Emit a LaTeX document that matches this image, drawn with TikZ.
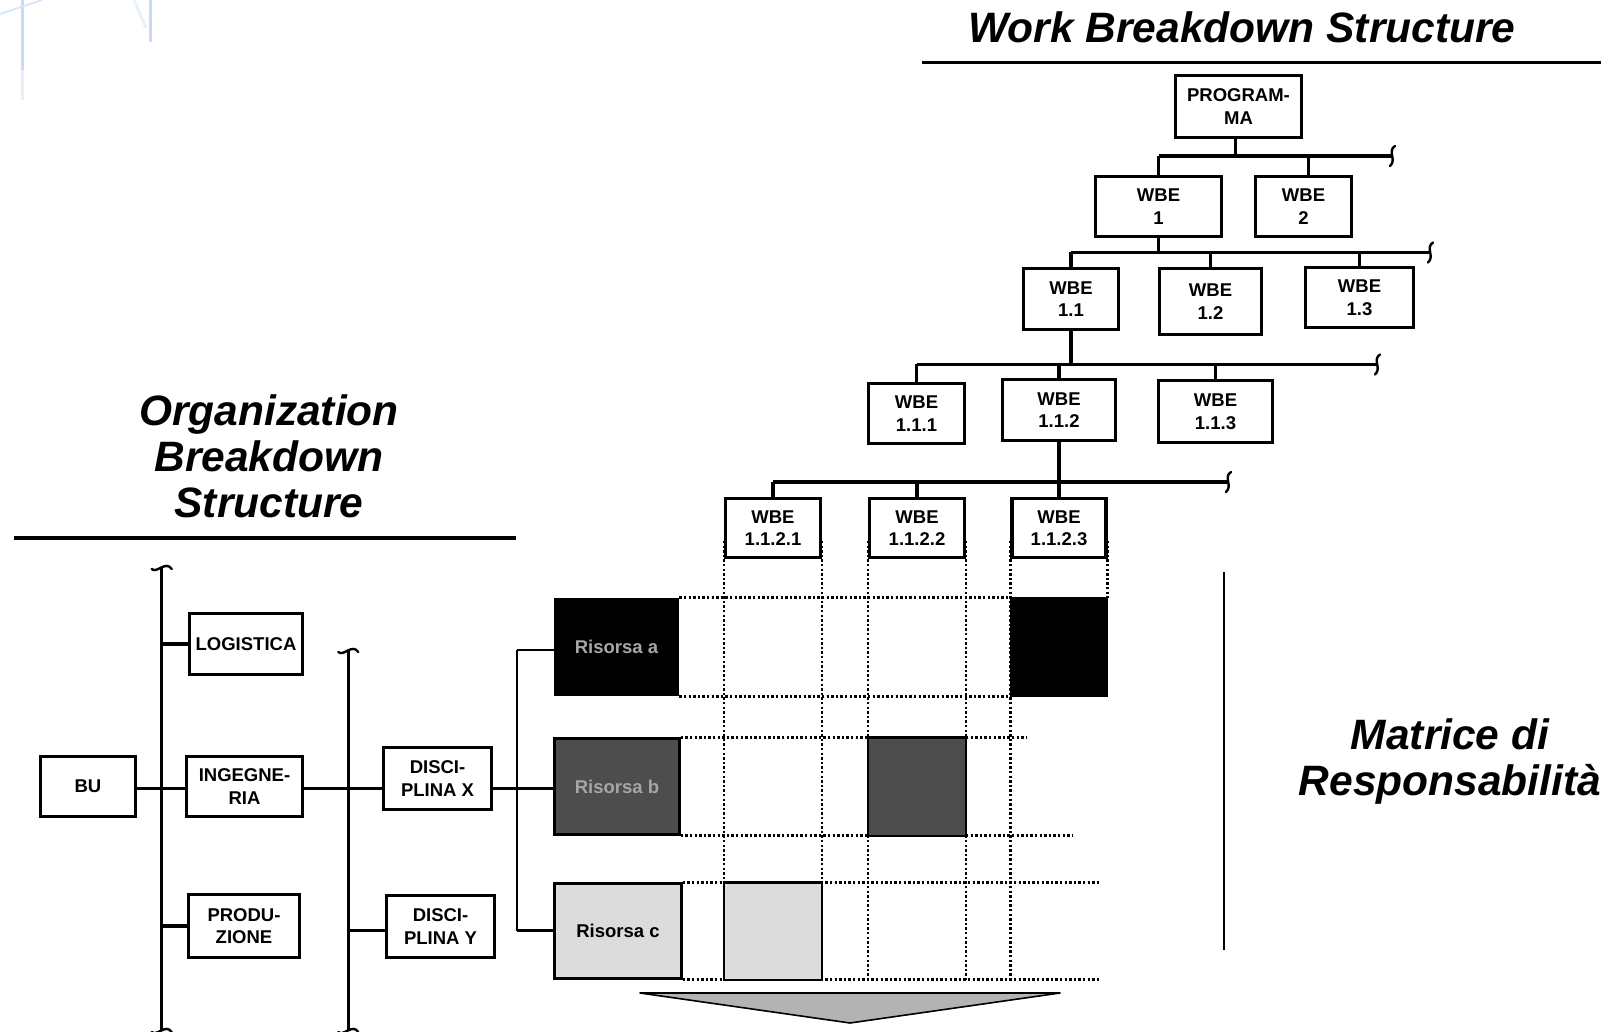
\documentclass[tikz,border=0pt]{standalone}
\usepackage{fontspec}
\setmainfont{Liberation Sans}
\definecolor{darkcell}{HTML}{4D4D4D}
\definecolor{lightcell}{HTML}{DCDCDC}
\definecolor{risgray}{HTML}{A6A6A6}
\definecolor{trigray}{HTML}{B3B3B3}
\definecolor{bgblue}{HTML}{C9DBF2}
\begin{document}
\begin{tikzpicture}[x=1pt,y=-1pt,
  conn/.style={line width=3.2pt},
  box/.style={draw, line width=3.1pt, fill=white, align=center, inner sep=0pt,
              font=\bfseries\fontsize{18.5}{22.5}\selectfont},
  risbox/.style={box, line width=2.6pt},
  dots/.style={line width=2.8pt, dash pattern=on 2.4pt off 2.2pt},
  ttl/.style={font=\bfseries\itshape\fontsize{42.5}{46}\selectfont, anchor=base, inner sep=0pt},
  brk/.style={line width=2.4pt, line join=round, line cap=round},
  hend/.pic={\draw[brk] (3,-10) .. controls (-5,-5) and (5,4) .. (-2,10);},
  vend/.pic={\draw[brk] (-10,2) .. controls (-5,7) and (4,-7) .. (10,2);},
]
\useasboundingbox (0,0) rectangle (1607,1032);

% faint background traces
\draw[bgblue, line width=3pt] (22,0) -- (22,70);
\draw[bgblue!45, line width=3pt] (22,70) -- (22,100);
\draw[bgblue!70, line width=2pt] (0,14) -- (42,0);
\draw[bgblue, line width=3pt] (150,0) -- (150,42);
\draw[bgblue!40, line width=3pt] (134,0) -- (146,28);

% ---------- titles ----------
\node[ttl] (wbst) at (1242,43) {Work Breakdown Structure};
\coordinate (wl1) at (922,62.5);
\coordinate (wl2) at (1601,62.5);
\draw[line width=3.2pt] (wl1) -- (wl2);

\node[ttl] (obs1) at (269,425) {Organization};
\node[ttl] (obs2) at (269,471) {Breakdown};
\node[ttl] (obs3) at (269,517) {Structure};
\coordinate (ol1) at (14,538);
\coordinate (ol2) at (515.5,538);
\draw[line width=3.2pt] (ol1) -- (ol2);

\node[ttl] (mat1) at (1450,749) {Matrice di};
\node[ttl] (mat2) at (1450,795) {Responsabilità};
\coordinate (ml1) at (1224,572);
\coordinate (ml2) at (1224,950);
\draw[line width=2pt] (ml1) -- (ml2);

% ---------- WBS nodes ----------
\node[box, minimum width=126pt, minimum height=62pt] (prog) at (1238.5,106.5) {PROGRAM-\\MA};
\node[box, minimum width=126pt, minimum height=60pt] (wbe1) at (1158.5,206.5) {WBE\\1};
\node[box, minimum width=96pt, minimum height=60pt] (wbe2) at (1303.5,206.5) {WBE\\2};
\node[box, minimum width=95pt, minimum height=61pt] (wbe11) at (1071,299) {WBE\\1.1};
\node[box, minimum width=102pt, minimum height=66pt] (wbe12) at (1210.5,301.5) {WBE\\1.2};
\node[box, minimum width=108pt, minimum height=60pt] (wbe13) at (1359.5,297.5) {WBE\\1.3};
\node[box, minimum width=96pt, minimum height=60pt] (wbe111) at (916.5,413.5) {WBE\\1.1.1};
\node[box, minimum width=113pt, minimum height=61pt] (wbe112) at (1059,410) {WBE\\1.1.2};
\node[box, minimum width=114pt, minimum height=62pt] (wbe113) at (1215.5,411.5) {WBE\\1.1.3};
\node[box, minimum width=95pt, minimum height=59pt] (wbe1121) at (773,528) {WBE\\1.1.2.1};
\node[box, minimum width=95pt, minimum height=59pt] (wbe1122) at (917,528) {WBE\\1.1.2.2};
\node[box, minimum width=94pt, minimum height=59pt] (wbe1123) at (1059,528) {WBE\\1.1.2.3};

% bus levels
\coordinate (y1) at (0,156);
\coordinate (y2) at (0,252.5);
\coordinate (y3) at (0,364.5);
\coordinate (y4) at (0,482);
\coordinate (b1r) at (1392,156);
\coordinate (b2r) at (1430,252.5);
\coordinate (b3r) at (1377,364.5);
\coordinate (b4r) at (1228,482);

\draw[conn] (wbe1.north |- y1) -- (b1r);
\path (b1r) pic {hend};
\draw[conn] ([xshift=-3pt]prog.south) -- ([xshift=-3pt]prog.south |- y1);
\draw[conn] (wbe1.north) -- (wbe1.north |- y1);
\draw[conn] ([xshift=5pt]wbe2.north) -- ([xshift=5pt]wbe2.north |- y1);

\draw[conn] (wbe11.north |- y2) -- (b2r);
\path (b2r) pic {hend};
\draw[conn] (wbe1.south) -- (wbe1.south |- y2);
\draw[conn] (wbe11.north) -- (wbe11.north |- y2);
\draw[conn] (wbe12.north) -- (wbe12.north |- y2);
\draw[conn] (wbe13.north) -- (wbe13.north |- y2);

\draw[conn] (wbe111.north |- y3) -- (b3r);
\path (b3r) pic {hend};
\draw[conn] (wbe11.south) -- (wbe11.south |- y3);
\draw[conn] (wbe111.north) -- (wbe111.north |- y3);
\draw[conn] (wbe112.north) -- (wbe112.north |- y3);
\draw[conn] (wbe113.north) -- (wbe113.north |- y3);

\draw[conn] (wbe1121.north |- y4) -- (b4r);
\path (b4r) pic {hend};
\draw[conn] (wbe112.south) -- (wbe112.south |- y4);
\draw[conn] (wbe1121.north) -- (wbe1121.north |- y4);
\draw[conn] (wbe1122.north) -- (wbe1122.north |- y4);
\draw[conn] (wbe1123.north) -- (wbe1123.north |- y4);

% ---------- OBS nodes ----------
\node[box, minimum width=95pt, minimum height=60pt] (bu) at (88,786.5) {BU};
\node[box, minimum width=113pt, minimum height=61pt] (log) at (246,644) {LOGISTICA};
\node[box, minimum width=116pt, minimum height=60pt] (ing) at (244.5,786.5) {INGEGNE-\\RIA};
\node[box, minimum width=111pt, minimum height=63pt] (prod) at (244,926) {PRODU-\\ZIONE};
\node[box, minimum width=108pt, minimum height=62pt] (discx) at (437.5,778.5) {DISCI-\\PLINA X};
\node[box, minimum width=108pt, minimum height=62pt] (discy) at (440.5,926.5) {DISCI-\\PLINA Y};

\node[risbox, fill=black, text=risgray, minimum width=123pt, minimum height=96pt] (risa) at (616.5,647) {Risorsa a};
\node[risbox, fill=darkcell, text=risgray, minimum width=125pt, minimum height=96pt] (risb) at (617,786.5) {Risorsa b};
\node[risbox, fill=lightcell, minimum width=127pt, minimum height=95pt] (risc) at (618,931) {Risorsa c};

\coordinate (yo) at (0,788.3);
\coordinate (yc) at (0,930.7);
\coordinate (ob1t) at (161.7,567);
\coordinate (ob1b) at (161.7,1030);
\coordinate (ob2t) at (348.3,650);
\coordinate (ob2b) at (348.3,1030);
\coordinate (ob3t) at (517,650);
\coordinate (ob3b) at (517,930.7);

\draw[conn] (ob1t) -- (ob1b);
\path (ob1t) pic {vend};
\path (ob1b) pic {vend};
\draw[conn] (ob2t) -- (ob2b);
\path (ob2t) pic {vend};
\path (ob2b) pic {vend};

\draw[conn] (bu.east |- yo) -- (ing.west |- yo);
\draw[conn] (ob1t |- log.west) -- (log.west);
\draw[conn] (ob1t |- prod.west) -- (prod.west);
\draw[conn] (ing.east |- yo) -- (discx.west |- yo);
\draw[conn] (ob2t |- yc) -- (discy.west |- yc);
\draw[conn] (discx.east |- yo) -- (ob3t |- yo);
\draw[conn, line width=2.6pt] (ob3t) -- (ob3b);
\draw[conn, line width=2.6pt] (ob3t) -- (risa.west |- ob3t);
\draw[conn, line width=2.6pt] (ob3t |- yo) -- (risb.west |- yo);
\draw[conn, line width=2.6pt] (ob3b) -- (risc.west |- ob3b);

% ---------- responsibility matrix ----------
\coordinate (ytop) at (0,541);
\coordinate (rbe1) at (1026,0);
\coordinate (rbe2) at (1073,0);
\coordinate (rce) at (1099,0);

\draw[dots] (wbe1121.west |- ytop) -- (wbe1121.west |- risc.north);
\draw[dots] (wbe1121.east |- ytop) -- (wbe1121.east |- risc.north);
\draw[dots] (wbe1122.west |- ytop) -- (wbe1122.west |- risc.south);
\draw[dots] (wbe1122.east |- ytop) -- (wbe1122.east |- risc.south);
\draw[dots] (wbe1123.west |- ytop) -- (wbe1123.west |- risc.south);
\draw[dots] (wbe1123.east |- ytop) -- (wbe1123.east |- risa.north);

\draw[dots] (risa.north east) -- (wbe1123.west |- risa.north);
\draw[dots] (risa.south east) -- (wbe1123.west |- risa.south);
\draw[dots] (risb.north east) -- (rbe1 |- risb.north);
\draw[dots] (risb.south east) -- (rbe2 |- risb.south);
\draw[dots] (risc.north east) -- (rce |- risc.north);
\draw[dots] (risc.south east) -- (rce |- risc.south);

\filldraw[black, line width=1pt] (wbe1123.west |- risa.north) rectangle (wbe1123.east |- risa.south);
\draw[line width=2.6pt, fill=darkcell] (wbe1122.west |- risb.north) rectangle (wbe1122.east |- risb.south);
\draw[line width=2.6pt, fill=lightcell] (wbe1121.west |- risc.north) rectangle (wbe1121.east |- risc.south);

% arrow triangle
\coordinate (t1) at (640,993);
\coordinate (t2) at (1060,993);
\coordinate (t3) at (850,1023);
\draw[line width=1.6pt, fill=trigray, line join=round] (t1) -- (t2) -- (t3) -- cycle;
\draw[line width=2.8pt] (t1) -- (t2);
\end{tikzpicture}
\end{document}
